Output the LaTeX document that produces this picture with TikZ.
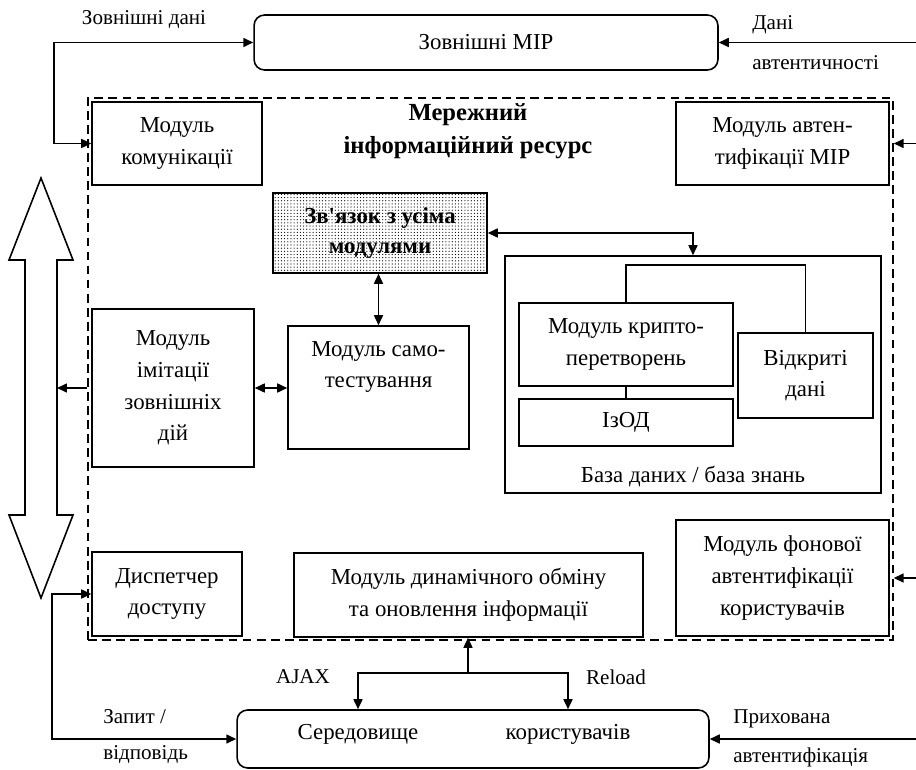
\documentclass[tikz,border=0pt]{standalone}
\usepackage{fontspec}
\setmainfont{Liberation Serif}
\usetikzlibrary{arrows.meta,patterns.meta}

\begin{document}
\begin{tikzpicture}[x=0.02cm, y=-0.02cm,
    >={Triangle[length=2mm,width=1.8mm]},
    box/.style={draw, line width=0.9pt, align=center, inner sep=1pt,
        font=\fontsize{13}{18}\selectfont},
    rbox/.style={box, rounded corners=6pt},
    txt/.style={align=center, inner sep=0pt, font=\fontsize{13}{18}\selectfont},
    lbl/.style={inner sep=0pt, font=\fontsize{12}{14}\selectfont},
    conn/.style={line width=0.9pt}]
    \useasboundingbox (0,0) rectangle (916,770);

    % Define coordinates
    \coordinate (lcolA) at (54,0);
    \coordinate (lcolB) at (52,0);
    \coordinate (redge) at (916,0);
    \coordinate (brk) at (0,265);
    \coordinate (split) at (468,673);
    \coordinate (shaftR) at (57,388);

    % Outer boxes
    \node[rbox, minimum width=9.28cm, minimum height=1.1cm] (mir) at (486,42.5) {Зовнішні МІР};
    \node[draw, line width=0.9pt, dash pattern=on 5pt off 3pt,
        minimum width=16.1cm, minimum height=10.84cm] (res) at (490.5,369) {};
    \node[rbox, minimum width=9.44cm, minimum height=1.16cm] (ser) at (473,739) {};
    \node[txt] (serA) at (358,734) {Середовище};
    \node[txt] (serB) at (568,734) {користувачів};

    % Modules
    \node[txt, font=\bfseries\fontsize{14}{19}\selectfont] (title) at (468,131)
        {Мережний\\інформаційний ресурс};
    \node[box, minimum width=3.4cm, minimum height=1.66cm] (komun) at (177,143.5)
        {Модуль\\комунікації};
    \node[box, minimum width=4.26cm, minimum height=1.66cm] (avtent) at (782.5,143.5)
        {Модуль автен-\\тифікації МІР};
    \node[box, pattern={Dots[distance=1.8pt,radius=0.35pt]},
        font=\bfseries\fontsize{13}{17}\selectfont,
        minimum width=4.28cm, minimum height=1.6cm] (zv) at (380,233)
        {Зв\textquotesingle язок з усіма\\модулями};
    \node[box, minimum width=3.24cm, minimum height=3.16cm] (imit) at (173,388)
        {Модуль\\імітації\\зовнішніх\\дій};
    \node[box, minimum width=3.62cm, minimum height=2.46cm] (samotest) at (378.5,387.5) {};
    \node[txt] (samotestT) at (378.5,367) {Модуль само-\\тестування};

    % Database
    \node[box, minimum width=7.52cm, minimum height=4.74cm] (bd) at (693,374.5) {};
    \node[txt] (bdT) at (693,477) {База даних / база знань};
    \node[box, minimum width=4.28cm, minimum height=1.66cm] (kripto) at (626,344.5)
        {Модуль крипто-\\перетворень};
    \node[box, minimum width=4.28cm, minimum height=0.94cm] (izod) at (626,422.5) {ІзОД};
    \node[box, minimum width=2.7cm, minimum height=1.7cm] (vidkr) at (805.5,375.5)
        {Відкриті\\дані};

    % Bottom row
    \node[box, minimum width=3.0cm, minimum height=1.68cm] (disp) at (167,594)
        {Диспетчер\\доступу};
    \node[box, minimum width=6.98cm, minimum height=1.68cm] (dynam) at (468.5,595)
        {Модуль динамічного обміну\\та оновлення інформації};
    \node[box, minimum width=4.26cm, minimum height=2.32cm] (fon) at (782.5,578)
        {Модуль фонової\\автентифікації\\користувачів};

    % Big double arrow
    \draw[line width=0.9pt] (41,178) -- (73,260) -- (57,260) -- (57,515) -- (73,515)
        -- (41,598) -- (9,515) -- (25,515) -- (25,260) -- (9,260) -- cycle;

    % Connectors
    \draw[conn, <->] (mir.west) -| (lcolA |- komun.west) -- (komun.west);
    \draw[conn, ->] (redge |- mir.east) -- (mir.east);
    \draw[conn, ->] (redge |- avtent.east) -- (res.east |- avtent.east);
    \draw[conn, ->] (redge |- fon.east) -- (res.east |- fon.east);
    \draw[conn, ->] (redge |- ser.east) -- (ser.east);
    \draw[conn, <->] (disp.west) -| (lcolB |- ser.west) -- (ser.west);
    \draw[conn, <->] (zv.east) -| (bd.north);
    \draw[conn, <->] (samotest.north |- zv.south) -- (samotest.north);
    \draw[conn, <->] (imit.east) -- (samotest.west |- imit.east);
    \draw[conn, ->] (res.west |- imit.west) -- (shaftR);
    \draw[conn, ->] (split) -- (split |- dynam.south);
    \draw[conn, <->] (serA |- ser.north) -- (serA |- split) -- (serB |- split)
        -- (serB |- ser.north);
    \draw[line width=0.7pt] (kripto.north) -- (kripto.north |- brk) -| (vidkr.north);
    \draw[line width=0.7pt] (kripto.south) -- (izod.north);

    % Labels
    \node[lbl] (lExt) at (144,20) {Зовнішні дані};
    \node[lbl, anchor=west] (lAuthA) at (752,25) {Дані};
    \node[lbl, anchor=west] (lAuthB) at (752,63) {автентичності};
    \node[lbl, anchor=west] (lReqA) at (103,717) {Запит /};
    \node[lbl, anchor=west] (lReqB) at (103,755) {відповідь};
    \node[lbl, anchor=west] (lHidA) at (733,719) {Прихована};
    \node[lbl, anchor=west] (lHidB) at (733,757) {автентифікація};
    \node[lbl] (lAjax) at (303,677) {AJAX};
    \node[lbl] (lReload) at (616,677) {Reload};
\end{tikzpicture}
\end{document}
